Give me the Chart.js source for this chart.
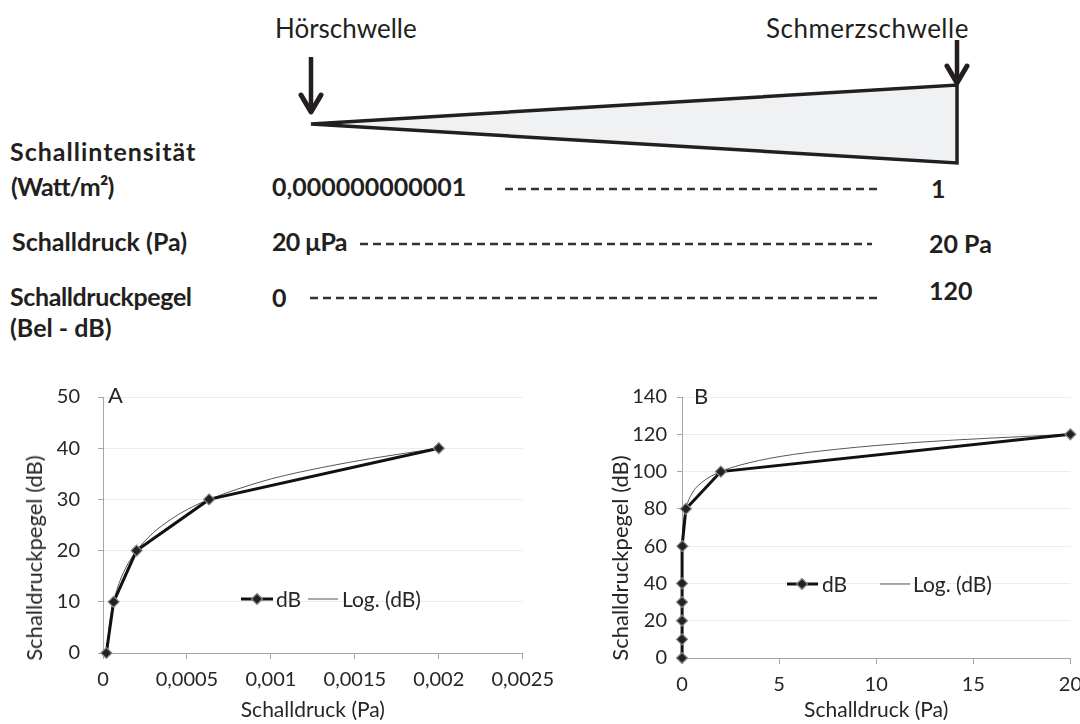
<!DOCTYPE html>
<html>
<head>
<meta charset="utf-8">
<script src="https://cdn.jsdelivr.net/npm/chart.js@4.4.1/dist/chart.umd.min.js"></script>
<style>
body { margin: 0; background: #fff; }
#page { position: relative; width: 1080px; height: 724px; overflow: hidden; font-family: Lato, "Open Sans", sans-serif; color: #231f20; }
.t { position: absolute; white-space: nowrap; line-height: 1; }
.big { font-size: 26px; }
.b { font-size: 25px; font-weight: bold; }
.lg { font-size: 21px; color: #262626; }
.ytitle { position: absolute; white-space: nowrap; line-height: 1; font-size: 22px; color: #262626; transform: translate(-50%, -50%) rotate(-90deg); }
.panel { position: absolute; font-size: 22px; line-height: 1; color: #262626; }
canvas { position: absolute; }
svg { position: absolute; left: 0; top: 0; }
</style>
</head>
<body>
<div id="page">
  <svg width="1080" height="380">
    <polygon points="311,124 957,85 957,163" fill="#f0f1f3" stroke="#231f20" stroke-width="3.5" stroke-linejoin="miter"/>
    <line x1="311" y1="57" x2="311" y2="110" stroke="#231f20" stroke-width="4.5"/>
    <polyline points="301,95 311,112 321,95" fill="none" stroke="#231f20" stroke-width="5" stroke-linecap="round" stroke-linejoin="round"/>
    <line x1="957" y1="40" x2="957" y2="80" stroke="#231f20" stroke-width="4.5"/>
    <polyline points="947,66 957,83 967,66" fill="none" stroke="#231f20" stroke-width="5" stroke-linecap="round" stroke-linejoin="round"/>
    <g stroke="#333" stroke-width="2.5" stroke-dasharray="8 5">
      <line x1="505" y1="189" x2="878" y2="189"/>
      <line x1="360" y1="244" x2="872" y2="244"/>
      <line x1="310" y1="298" x2="878" y2="298"/>
    </g>
  </svg>

  <div class="t big" style="left:275px;top:15px">Hörschwelle</div>
  <div class="t big" style="left:766px;top:15px;letter-spacing:0.5px">Schmerzschwelle</div>

  <div class="t b" style="left:10px;top:139px;letter-spacing:1px">Schallintensität</div>
  <div class="t b" style="left:11px;top:174px;letter-spacing:-0.8px">(Watt/m²)</div>
  <div class="t b" style="left:272px;top:174px">0,000000000001</div>
  <div class="t b" style="left:931px;top:176px">1</div>

  <div class="t b" style="left:12px;top:229px">Schalldruck (Pa)</div>
  <div class="t b" style="left:272px;top:229px;letter-spacing:-0.8px">20 µPa</div>
  <div class="t b" style="left:929px;top:231px">20 Pa</div>

  <div class="t b" style="left:10px;top:284px;letter-spacing:-0.4px">Schalldruckpegel</div>
  <div class="t b" style="left:272px;top:285px">0</div>
  <div class="t b" style="left:929px;top:278px">120</div>
  <div class="t b" style="left:10px;top:315px">(Bel - dB)</div>

  <canvas id="chartA" width="563" height="357" style="left:0;top:367px"></canvas>
  <canvas id="chartB" width="531" height="349" style="left:560px;top:375px"></canvas>

  <div class="panel" style="left:108px;top:384px">A</div>
  <div class="panel" style="left:694px;top:385px">B</div>
  <div class="ytitle" style="left:34px;top:558px">Schalldruckpegel (dB)</div>
  <div class="ytitle" style="left:620px;top:558px">Schalldruckpegel (dB)</div>

  <!-- Legenden -->
  <svg width="1080" height="724" style="pointer-events:none">
    <line x1="241" y1="599" x2="273" y2="599" stroke="#111" stroke-width="3"/>
    <polygon points="257,593.5 262.5,599 257,604.5 251.5,599" fill="#222" stroke="#888" stroke-width="1.2"/>
    <line x1="308" y1="599" x2="338" y2="599" stroke="#555" stroke-width="1"/>
    <line x1="787" y1="584" x2="818" y2="584" stroke="#111" stroke-width="3"/>
    <polygon points="802,578.5 807.5,584 802,589.5 796.5,584" fill="#222" stroke="#888" stroke-width="1.2"/>
    <line x1="880" y1="584" x2="910" y2="584" stroke="#555" stroke-width="1"/>
  </svg>
  <div class="t lg" style="left:276px;top:588px">dB</div>
  <div class="t lg" style="left:342px;top:588px">Log. (dB)</div>
  <div class="t lg" style="left:822px;top:573px">dB</div>
  <div class="t lg" style="left:913px;top:573px">Log. (dB)</div>
</div>

<script>
// Diagramm A: 0 - 40 dB
const pressureA = [0.00002, 0.0000632, 0.0002, 0.000632, 0.002];
const dbA = [0, 10, 20, 30, 40];
// logarithmische Trendlinie
const trendPressureA = [0.00002, 0.00004, 0.0000632, 0.0001, 0.00015, 0.0002, 0.0003, 0.0004, 0.0005, 0.000632, 0.0008, 0.001, 0.0013, 0.0016, 0.002];
const trendDbA = [0, 6, 10, 14, 17.5, 20, 23.5, 26, 28, 30, 32, 34, 36.2, 38, 40];
const xTicksA = [0, 0.0005, 0.001, 0.0015, 0.002, 0.0025];
const xLabelsA = ["0", "0,0005", "0,001", "0,0015", "0,002", "0,0025"];

// Diagramm B: 0 - 120 dB
const pressureB = [0.00002, 0.0000632, 0.0002, 0.000632, 0.002, 0.02, 0.2, 2, 20];
const dbB = [0, 10, 20, 30, 40, 60, 80, 100, 120];
const trendPressureB = [0.00002, 0.0002, 0.002, 0.02, 0.1, 0.2, 0.5, 1, 2, 3, 5, 8, 12, 16, 20];
const trendDbB = [0, 20, 40, 60, 74, 80, 88, 94, 100, 103.5, 108, 112, 115.6, 118, 120];
const xTicksB = [0, 5, 10, 15, 20];
const xLabelsB = ["0", "5", "10", "15", "20"];

Chart.defaults.font.family = "Lato";
Chart.defaults.color = "#262626";

function pts(xs, ys) {
    return xs.map(function (x, i) { return {x: x, y: ys[i]}; });
}

function makeChart(id, o) {
    return new Chart(document.getElementById(id), {
        type: "scatter",
        data: {
            datasets: [
                {
                    label: "dB",
                    data: pts(o.px, o.db),
                    showLine: true,
                    borderColor: "#111",
                    borderWidth: 3,
                    pointStyle: "rectRot",
                    pointRadius: 5.5,
                    pointBackgroundColor: "#222",
                    pointBorderColor: "#888",
                    pointBorderWidth: 1.2,
                    clip: false
                },
                {
                    label: "Log. (dB)",
                    data: pts(o.tx, o.ty),
                    showLine: true,
                    borderColor: "#555",
                    borderWidth: 1,
                    pointRadius: 0,
                    cubicInterpolationMode: "monotone",
                    clip: false
                }
            ]
        },
        options: {
            responsive: false,
            animation: false,
            devicePixelRatio: 1,
            layout: {padding: o.padding},
            plugins: {legend: {display: false}, tooltip: {enabled: false}},
            scales: {
                x: {
                    type: "linear",
                    min: o.xTicks[0],
                    max: o.xTicks[o.xTicks.length - 1],
                    afterBuildTicks: function (s) { s.ticks = o.xTicks.map(function (v) { return {value: v}; }); },
                    afterFit: function (s) { s.height = o.xHeight; },
                    ticks: {
                        font: {size: 20},
                        padding: 9,
                        maxRotation: 0,
                        callback: function (v, i) { return o.xLabels[i]; }
                    },
                    grid: {drawOnChartArea: false, tickColor: "#a6a6a6", tickLength: 6},
                    border: {color: "#a6a6a6"},
                    title: {display: true, text: "Schalldruck (Pa)", font: {size: 21}, padding: {top: 0, bottom: 1}}
                },
                y: {
                    min: 0,
                    max: o.yMax,
                    afterFit: function (s) { s.width = o.yWidth; },
                    ticks: {stepSize: o.yStep, font: {size: 20}, padding: o.yPad},
                    grid: {color: "#ededed", tickColor: "#a6a6a6", tickLength: 5},
                    border: {color: "#a6a6a6"}
                }
            }
        }
    });
}

makeChart("chartA", {
    px: pressureA, db: dbA, tx: trendPressureA, ty: trendDbA,
    xTicks: xTicksA, xLabels: xLabelsA,
    yMax: 50, yStep: 10, yWidth: 103, yPad: 18, xHeight: 71,
    padding: {left: 0, right: 34, top: 2, bottom: 0}
});

makeChart("chartB", {
    px: pressureB, db: dbB, tx: trendPressureB, ty: trendDbB,
    xTicks: xTicksB, xLabels: xLabelsB,
    yMax: 140, yStep: 20, yWidth: 122, yPad: 10, xHeight: 66,
    padding: {left: 0, right: 0, top: 2, bottom: 0}
});
</script>
</body>
</html>
